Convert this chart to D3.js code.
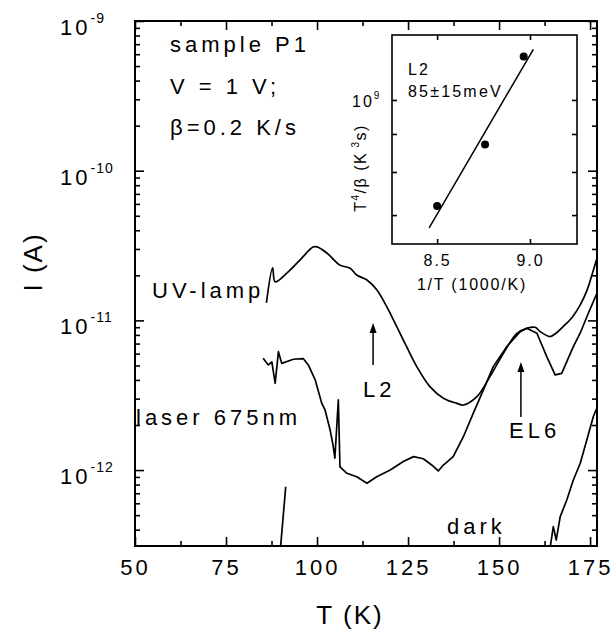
<!DOCTYPE html>
<html>
<head>
<meta charset="utf-8">
<script src="https://cdn.jsdelivr.net/npm/d3@7/dist/d3.min.js"></script>
<style>
  body { margin: 0; background: #fff; }
  svg text { font-family: "Liberation Sans", Arial, sans-serif; fill: #000; }
</style>
</head>
<body>
<div class="chart"></div>
<script>
// Kurva utama: suhu T (K) dan arus I (A)
var uvT = [86.1, 87.8, 88.5, 91.7, 95.3, 98.9, 100.0, 102.7, 106.3, 109.1, 110.9, 113.7, 116.4, 119.1, 121.9, 124.6, 127.4, 131.0, 134.7, 138.4, 140.2, 143.9, 147.5, 151.2, 154.9, 157.6, 159.9, 161.3, 164.0, 165.7, 167.6, 170.1, 172.3, 174.2, 175.5, 176.9];
var uvI = [1.31e-11, 2.24e-11, 1.81e-11, 2.07e-11, 2.53e-11, 3.09e-11, 3.10e-11, 2.82e-11, 2.34e-11, 2.23e-11, 2.01e-11, 1.86e-11, 1.60e-11, 1.24e-11, 9.08e-12, 6.67e-12, 4.91e-12, 3.61e-12, 3.02e-12, 2.79e-12, 2.72e-12, 3.09e-12, 4.21e-12, 6.03e-12, 8.20e-12, 8.85e-12, 8.99e-12, 8.41e-12, 7.80e-12, 8.24e-12, 9.08e-12, 1.05e-11, 1.27e-11, 1.60e-11, 2.01e-11, 2.61e-11];

var laserT = [85.2, 86.6, 87.6, 88.5, 89.4, 90.3, 93.5, 96.2, 97.6, 99.5, 101.3, 102.2, 103.6, 104.4, 104.9, 105.85, 106.3, 108.2, 110.9, 113.7, 116.4, 120.1, 123.7, 126.5, 129.2, 131.95, 133.3, 134.7, 137.4, 140.2, 142.9, 145.7, 148.4, 152.1, 155.8, 157.6, 160.4, 163.1, 165.4, 167.2, 170.4, 172.3, 174.2, 176.9];
var laserI = [5.58e-12, 5.04e-12, 5.27e-12, 3.80e-12, 6.18e-12, 5.16e-12, 5.50e-12, 5.56e-12, 5.04e-12, 4.00e-12, 2.79e-12, 2.52e-12, 1.85e-12, 1.47e-12, 1.20e-12, 2.94e-12, 1.05e-12, 9.52e-13, 9.03e-13, 8.16e-13, 9.03e-13, 1.00e-12, 1.14e-12, 1.23e-12, 1.19e-12, 1.06e-12, 9.86e-13, 1.08e-12, 1.23e-12, 1.67e-12, 2.39e-12, 3.43e-12, 4.91e-12, 6.67e-12, 8.41e-12, 8.85e-12, 8.20e-12, 5.73e-12, 4.32e-12, 4.43e-12, 6.67e-12, 8.24e-12, 1.07e-11, 1.52e-11];

var darkT = [163.9, 164.9, 165.7, 166.8, 168.6, 170.4, 172.3, 174.1, 175.9, 176.9];
var darkI = [2.9e-13, 4.19e-13, 3.41e-13, 4.89e-13, 6.31e-13, 8.59e-13, 1.11e-12, 1.59e-12, 2.28e-12, 2.60e-12];

var darkLowT = [89.9, 91.4];
var darkLowI = [2.9e-13, 7.74e-13];

// Panah penanda puncak L2 dan EL6
var arrowNames = ["L2", "EL6"];
var arrowT = [115.4, 156.0];
var arrowFrom = [5.04e-12, 2.26e-12];
var arrowTo = [9.6e-12, 5.27e-12];

// Label sumbu
var xTicks = [50, 75, 100, 125, 150, 175];
var xMinor = [62.5, 87.5, 112.5, 137.5, 162.5];
var yTicks = [1e-12, 1e-11, 1e-10, 1e-9];
var yExp = ["-12", "-11", "-10", "-9"];

// Inset: plot Arrhenius
var insetX = [8.5, 8.758, 8.966];
var insetY = [7.20e8, 8.71e8, 1.144e9];
var fitX = [8.457, 9.018];
var fitY = [6.73e8, 1.17e9];
var insetXTicks = [8.5, 9.0];
var insetYTicks = [7e8, 8e8, 9e8, 1e9];

var width = 614;
var height = 634;
var margin = { top: 21, right: 17, bottom: 88, left: 135 };

var svg = d3.select(".chart")
  .append("svg")
  .attr("width", width)
  .attr("height", height);

var x = d3.scaleLinear()
  .domain([50, 176.9])
  .range([margin.left, width - margin.right]);

var y = d3.scaleLog()
  .domain([3.11e-13, 1e-9])
  .range([height - margin.bottom, margin.top]);

var bottomY = height - margin.bottom;
var rightX = width - margin.right;

svg.append("clipPath").attr("id", "plotclip")
  .append("rect")
  .attr("x", margin.left).attr("y", margin.top)
  .attr("width", rightX - margin.left).attr("height", bottomY - margin.top);

// Fungsi kecil untuk menggambar tick ke dalam
function styleAxis(g) {
  g.select(".domain").remove();
  g.selectAll("line").attr("stroke", "#000").attr("stroke-width", 1.6);
}

// Tick sumbu x (bawah dan atas)
svg.append("g")
  .attr("transform", "translate(0," + bottomY + ")")
  .call(d3.axisBottom(x).tickValues(xTicks).tickSize(-9).tickSizeOuter(0).tickPadding(13).tickFormat(d3.format("d")))
  .call(styleAxis)
  .selectAll("text")
  .style("font-size", "22px")
  .style("letter-spacing", "3px");

svg.append("g")
  .attr("transform", "translate(0," + bottomY + ")")
  .call(d3.axisBottom(x).tickValues(xMinor).tickSize(-5).tickSizeOuter(0).tickFormat(""))
  .call(styleAxis);

svg.append("g")
  .attr("transform", "translate(0," + margin.top + ")")
  .call(d3.axisTop(x).tickValues(xTicks).tickSize(-9).tickSizeOuter(0).tickFormat(""))
  .call(styleAxis);

svg.append("g")
  .attr("transform", "translate(0," + margin.top + ")")
  .call(d3.axisTop(x).tickValues(xMinor).tickSize(-5).tickSizeOuter(0).tickFormat(""))
  .call(styleAxis);

// Tick minor log untuk sumbu y
var yMinor = [];
[-13, -12, -11, -10].forEach(function(k) {
  for (var m = 2; m <= 9; m++) {
    var v = m * Math.pow(10, k);
    if (v > y.domain()[0] && v < y.domain()[1]) yMinor.push(v);
  }
});

svg.append("g")
  .attr("transform", "translate(" + margin.left + ",0)")
  .call(d3.axisLeft(y).tickValues(yTicks).tickSize(-9).tickSizeOuter(0).tickFormat(""))
  .call(styleAxis);

svg.append("g")
  .attr("transform", "translate(" + margin.left + ",0)")
  .call(d3.axisLeft(y).tickValues(yMinor).tickSize(-5).tickSizeOuter(0).tickFormat(""))
  .call(styleAxis);

svg.append("g")
  .attr("transform", "translate(" + rightX + ",0)")
  .call(d3.axisRight(y).tickValues(yTicks).tickSize(-9).tickSizeOuter(0).tickFormat(""))
  .call(styleAxis);

svg.append("g")
  .attr("transform", "translate(" + rightX + ",0)")
  .call(d3.axisRight(y).tickValues(yMinor).tickSize(-5).tickSizeOuter(0).tickFormat(""))
  .call(styleAxis);

// Label 10^n di kiri
yTicks.forEach(function(v, i) {
  var t = svg.append("text")
    .attr("x", 60)
    .attr("y", y(v) + 14)
    .style("font-size", "22px")
    .style("letter-spacing", "3px");
  t.append("tspan").text("10");
  t.append("tspan").attr("dy", -12).style("font-size", "14px").style("letter-spacing", "1px").text(yExp[i]);
});

// Bingkai plot
svg.append("rect")
  .attr("x", margin.left).attr("y", margin.top)
  .attr("width", rightX - margin.left).attr("height", bottomY - margin.top)
  .attr("fill", "none").attr("stroke", "#000").attr("stroke-width", 2);

// Judul sumbu
svg.append("text")
  .attr("x", 350).attr("y", 624)
  .attr("text-anchor", "middle")
  .style("font-size", "26px")
  .style("letter-spacing", "2px")
  .text("T (K)");

svg.append("text")
  .attr("transform", "translate(42,262) rotate(-90)")
  .attr("text-anchor", "middle")
  .style("font-size", "26px")
  .style("letter-spacing", "2px")
  .text("I (A)");

// Kurva (UV dihaluskan, laser dan dark tetap bergerigi)
var smoothLine = d3.line()
  .x(function(d) { return x(d[0]); })
  .y(function(d) { return y(d[1]); })
  .curve(d3.curveCatmullRom.alpha(0.5));

var line = d3.line()
  .x(function(d) { return x(d[0]); })
  .y(function(d) { return y(d[1]); });

var curves = [
  { pts: d3.zip(uvT, uvI), smooth: true },
  { pts: d3.zip(laserT, laserI), smooth: false },
  { pts: d3.zip(darkT, darkI), smooth: false },
  { pts: d3.zip(darkLowT, darkLowI), smooth: false }
];

svg.append("g")
  .attr("clip-path", "url(#plotclip)")
  .selectAll("path")
  .data(curves)
  .enter().append("path")
  .attr("d", function(d) { return d.smooth ? smoothLine(d.pts) : line(d.pts); })
  .attr("fill", "none")
  .attr("stroke", "#000")
  .attr("stroke-width", 1.7)
  .attr("stroke-linejoin", "round");

// Panah
arrowT.forEach(function(t, i) {
  var ax = x(t);
  var tip = y(arrowTo[i]);
  svg.append("line")
    .attr("x1", ax).attr("x2", ax)
    .attr("y1", y(arrowFrom[i])).attr("y2", tip + 8)
    .attr("stroke", "#000").attr("stroke-width", 1.5);
  svg.append("path")
    .attr("d", "M" + ax + "," + tip + "L" + (ax - 3.5) + "," + (tip + 10) + "L" + (ax + 3.5) + "," + (tip + 10) + "Z")
    .attr("fill", "#000");
});

// Teks keterangan
var labelStyle = function(sel) {
  sel.style("font-size", "22px").style("letter-spacing", "4px");
};
svg.append("text").attr("x", 170).attr("y", 52).call(labelStyle).text("sample P1");
svg.append("text").attr("x", 170).attr("y", 94).call(labelStyle).text("V = 1 V;");
svg.append("text").attr("x", 170).attr("y", 135).call(labelStyle).text("β=0.2 K/s");
svg.append("text").attr("x", 152).attr("y", 298).call(labelStyle).text("UV-lamp");
svg.append("text").attr("x", 136).attr("y", 425).call(labelStyle).text("laser 675nm");
svg.append("text").attr("x", 363).attr("y", 397).call(labelStyle).text(arrowNames[0]);
svg.append("text").attr("x", 509).attr("y", 438).call(labelStyle).text(arrowNames[1]);
svg.append("text").attr("x", 447).attr("y", 534).call(labelStyle).text("dark");

// ---------- Inset ----------
var ix = d3.scaleLinear().domain([8.257, 9.253]).range([392, 577]);
var iy = d3.scaleLog().domain([6.40e8, 1.223e9]).range([244, 35]);

svg.append("rect")
  .attr("x", 392).attr("y", 35)
  .attr("width", 185).attr("height", 209)
  .attr("fill", "#fff");

svg.append("g")
  .attr("transform", "translate(0,244)")
  .call(d3.axisBottom(ix).tickValues(insetXTicks).tickSize(-5).tickSizeOuter(0).tickPadding(11).tickFormat(d3.format(".1f")))
  .call(styleAxis)
  .selectAll("text")
  .style("font-size", "16px")
  .style("letter-spacing", "2px");

svg.append("g")
  .attr("transform", "translate(0,35)")
  .call(d3.axisTop(ix).tickValues(insetXTicks).tickSize(-5).tickSizeOuter(0).tickFormat(""))
  .call(styleAxis);

svg.append("g")
  .attr("transform", "translate(392,0)")
  .call(d3.axisLeft(iy).tickValues(insetYTicks).tickSize(-5).tickSizeOuter(0).tickFormat(""))
  .call(styleAxis);

svg.append("g")
  .attr("transform", "translate(577,0)")
  .call(d3.axisRight(iy).tickValues(insetYTicks).tickSize(-5).tickSizeOuter(0).tickFormat(""))
  .call(styleAxis);

svg.append("rect")
  .attr("x", 392).attr("y", 35)
  .attr("width", 185).attr("height", 209)
  .attr("fill", "none").attr("stroke", "#000").attr("stroke-width", 1.6);

var lbl9 = svg.append("text")
  .attr("x", 352).attr("y", iy(1e9) + 7)
  .style("font-size", "16px").style("letter-spacing", "2px");
lbl9.append("tspan").text("10");
lbl9.append("tspan").attr("dy", -8).style("font-size", "10px").text("9");

svg.append("text")
  .attr("x", 472).attr("y", 290)
  .attr("text-anchor", "middle")
  .style("font-size", "16px").style("letter-spacing", "1.8px")
  .text("1/T (1000/K)");

var ylab = svg.append("text")
  .attr("transform", "translate(366,168) rotate(-90)")
  .attr("text-anchor", "middle")
  .style("font-size", "16px").style("letter-spacing", "1.5px");
ylab.append("tspan").text("T");
ylab.append("tspan").attr("dy", -7).style("font-size", "10px").text("4");
ylab.append("tspan").attr("dy", 7).text("/β (K");
ylab.append("tspan").attr("dy", -7).style("font-size", "10px").text(" 3");
ylab.append("tspan").attr("dy", 7).text("s)");

svg.append("path")
  .datum(d3.zip(fitX, fitY))
  .attr("d", d3.line().x(function(d) { return ix(d[0]); }).y(function(d) { return iy(d[1]); }))
  .attr("fill", "none").attr("stroke", "#000").attr("stroke-width", 1.5);

svg.selectAll(".ipt")
  .data(d3.zip(insetX, insetY))
  .enter().append("circle")
  .attr("class", "ipt")
  .attr("cx", function(d) { return ix(d[0]); })
  .attr("cy", function(d) { return iy(d[1]); })
  .attr("r", 4)
  .attr("fill", "#000");

svg.append("text").attr("x", 408).attr("y", 75)
  .style("font-size", "16px").style("letter-spacing", "2.2px").text("L2");
svg.append("text").attr("x", 408).attr("y", 97)
  .style("font-size", "16px").style("letter-spacing", "2.2px").text("85±15meV");
</script>
</body>
</html>
